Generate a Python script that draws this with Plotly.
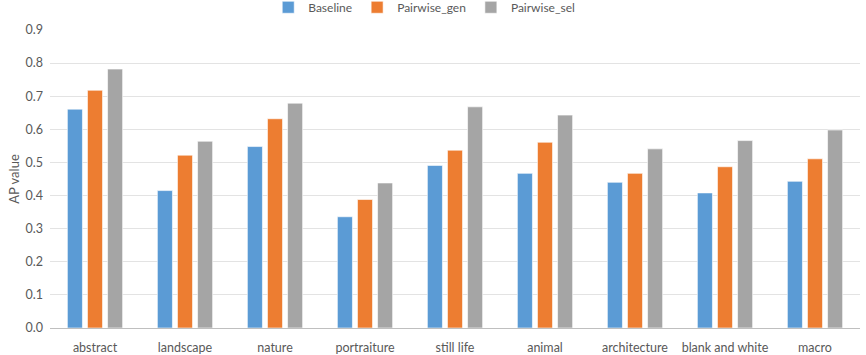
import plotly.graph_objects as go

categories = ["abstract", "landscape", "nature", "portraiture", "still life",
              "animal", "architecture", "blank and white", "macro"]
baseline = [0.661, 0.415, 0.548, 0.336, 0.491, 0.467, 0.440, 0.408, 0.443]
pairwise_gen = [0.718, 0.522, 0.632, 0.388, 0.537, 0.561, 0.467, 0.487, 0.511]
pairwise_sel = [0.782, 0.564, 0.679, 0.438, 0.668, 0.643, 0.541, 0.566, 0.598]
y_ticks = [0.0, 0.1, 0.2, 0.3, 0.4, 0.5, 0.6, 0.7, 0.8, 0.9]

series = [
    ("Baseline", baseline, "#5B9BD5"),
    ("Pairwise_gen", pairwise_gen, "#ED7D31"),
    ("Pairwise_sel", pairwise_sel, "#A5A5A5"),
]

fig = go.Figure()
for name, vals, color in series:
    fig.add_trace(go.Bar(
        x=categories, y=vals, name=name,
        marker=dict(color=color, line=dict(color="rgba(255,255,255,0.6)", width=1)),
    ))

text_color = "#595959"
fig.update_layout(
    width=866, height=355,
    margin=dict(l=50, r=6, t=30, b=27, autoexpand=False),
    paper_bgcolor="white", plot_bgcolor="white",
    font=dict(family="Lato, Open Sans, sans-serif", size=12, color=text_color),
    barmode="group", bargap=0.33, bargroupgap=0.25,
    showlegend=True,
    legend=dict(orientation="h", x=0.462, xanchor="center", y=1.125, yanchor="top",
                yref="paper", font=dict(size=12, color=text_color),
                itemwidth=30, tracegroupgap=0, bgcolor="rgba(0,0,0,0)"),
    xaxis=dict(showgrid=False, showline=True, linecolor="#BFBFBF", linewidth=1,
               ticks="", ticklabelstandoff=8,
               tickfont=dict(size=12.5, color=text_color)),
    yaxis=dict(range=[0, 0.9], tickvals=y_ticks, tickformat=".1f",
               showgrid=True, gridcolor="#E3E3E3", gridwidth=1,
               zeroline=False, showline=False, ticks="", ticklabelstandoff=6,
               title=dict(text="AP value", font=dict(size=13, color=text_color), standoff=2),
               tickfont=dict(size=12.5, color=text_color)),
)

fig.write_html("out.html")
